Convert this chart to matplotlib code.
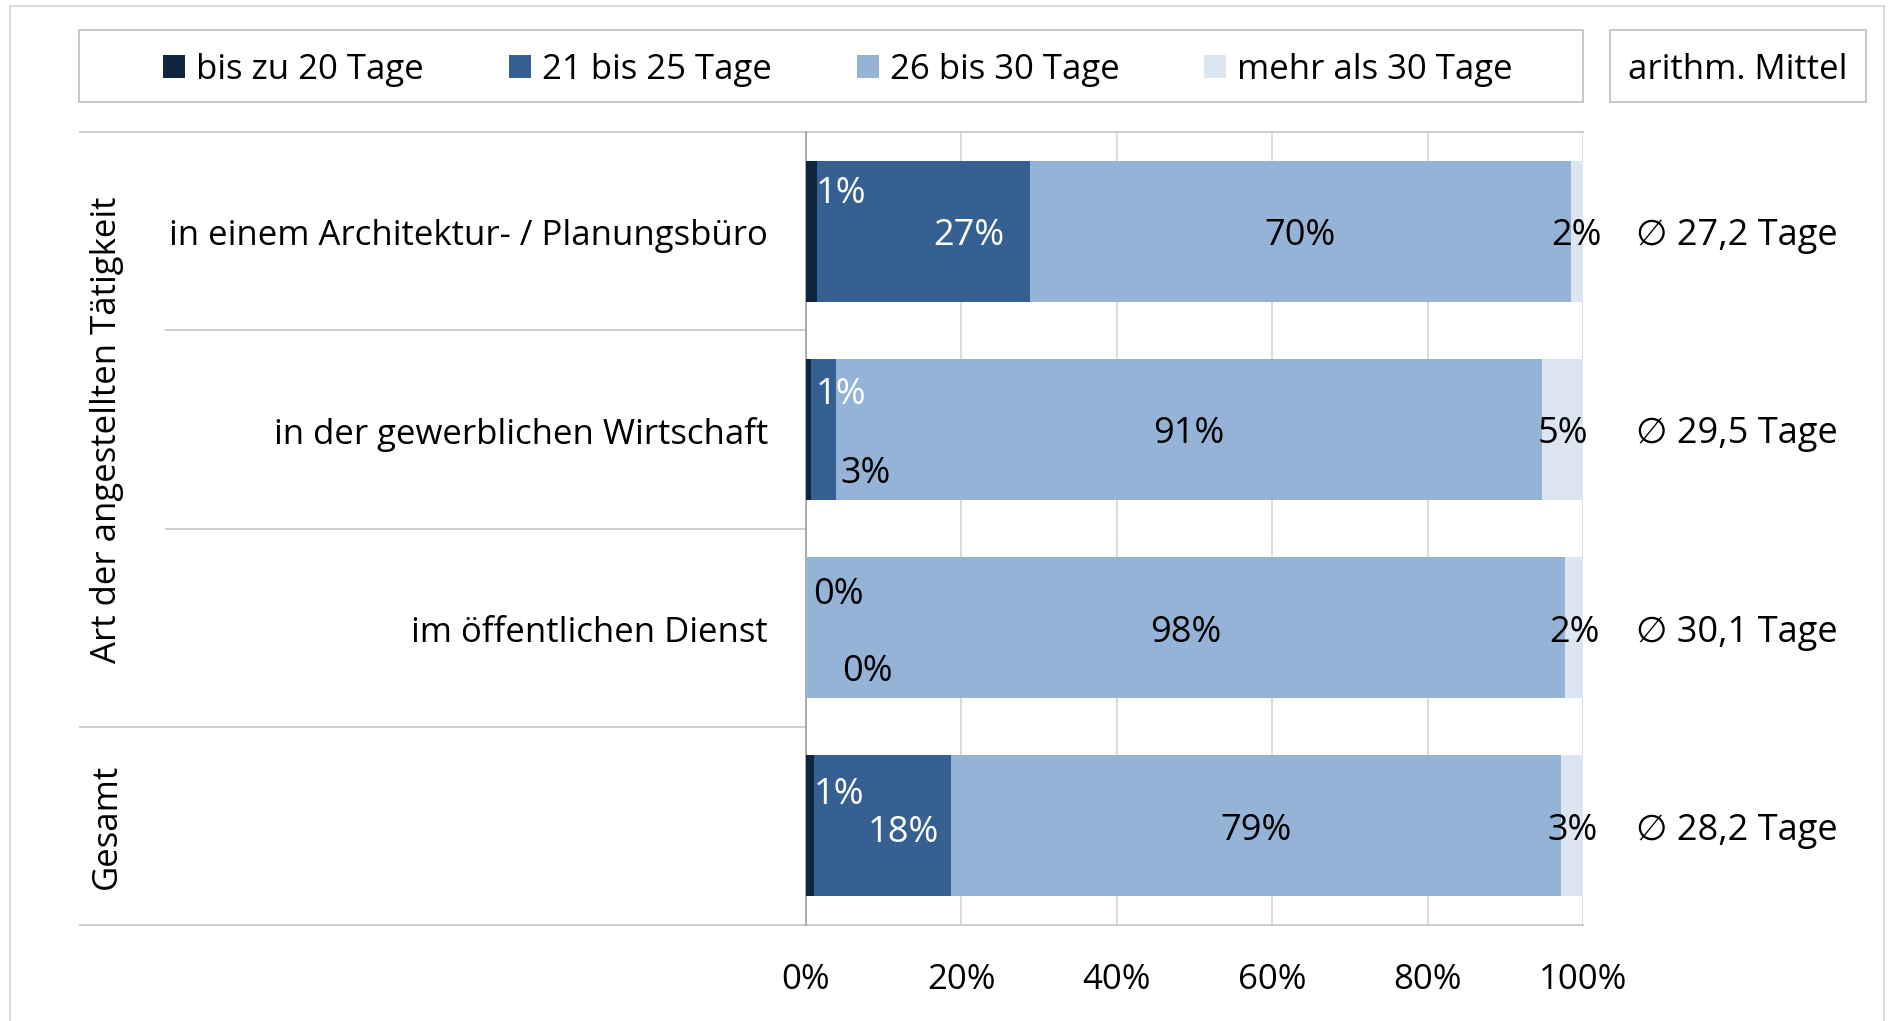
import numpy as np
import matplotlib.pyplot as plt
from matplotlib.patches import Patch, Rectangle

plt.rcParams['font.family'] = ['Open Sans', 'DejaVu Sans']

# Kategorien und Gruppen
kategorien = ["in einem Architektur- / Planungsbüro",
              "in der gewerblichen Wirtschaft",
              "im öffentlichen Dienst",
              ""]
gruppe_taetigkeit = "Art der angestellten Tätigkeit"
gruppe_gesamt = "Gesamt"

# Anteile in Prozent je Urlaubsklasse
serien = ["bis zu 20 Tage", "21 bis 25 Tage", "26 bis 30 Tage", "mehr als 30 Tage"]
bis_20 = [1.4, 0.6, 0.0, 1.0]
von_21_bis_25 = [27.4, 3.3, 0.0, 17.6]
von_26_bis_30 = [69.6, 90.8, 97.7, 78.6]
mehr_als_30 = [1.6, 5.3, 2.3, 2.8]

# arithmetisches Mittel der Urlaubstage
mittelwerte = [27.2, 29.5, 30.1, 28.2]
mittel_titel = "arithm. Mittel"

x_ticks = [0, 20, 40, 60, 80, 100]

farben = ["#10253f", "#366092", "#95b3d7", "#dce6f1"]
# Textfarbe der Beschriftungen je Serie und Zeile
text_farben = [["white", "white", "black", "white"],
               ["white", "black", "black", "white"],
               ["black"] * 4,
               ["black"] * 4]
# Verschiebung der Beschriftungen gegenüber der Segmentmitte (x in %, y in Zeilen)
label_dx = [[3.8, 4.2, 4.2, 3.8],
            [5.9, 5.4, 7.9, 2.7],
            [0, 0, 0, 0],
            [0, 0, 0, 0]]
label_dy = [[-0.21, -0.2, -0.19, -0.18],
            [0, 0.2, 0.2, 0.01],
            [0, 0, 0, 0],
            [0, 0, 0, 0]]
TEXT_DY = 0.025  # Text optisch auf Balkenmitte setzen

FS = 25
W, H = 1888, 1021
fig = plt.figure(figsize=(W / 100, H / 100), dpi=100)
ax = fig.add_axes([806 / W, 1 - 925 / H, 777 / W, 793 / H])

werte = np.array([bis_20, von_21_bis_25, von_26_bis_30, mehr_als_30])
y = np.arange(len(kategorien))
links = np.zeros(len(kategorien))
for i, name in enumerate(serien):
    ax.barh(y, werte[i], left=links, height=0.71, color=farben[i],
            edgecolor='none', label=name, zorder=3)
    for j in range(len(kategorien)):
        mitte = links[j] + werte[i][j] / 2
        ax.text(mitte + label_dx[i][j], y[j] + label_dy[i][j] + TEXT_DY,
                f"{werte[i][j]:.0f}%", ha='center', va='center',
                fontsize=26, color=text_farben[i][j], zorder=5)
    links += werte[i]

ax.set_xlim(0, 100)
ax.set_ylim(len(kategorien) - 0.5, -0.5)
ax.set_xticks(x_ticks)
ax.set_xticklabels([f"{t}%" for t in x_ticks])
ax.set_yticks([])
ax.tick_params(axis='x', length=0, pad=27, labelsize=FS)
ax.xaxis.grid(True, color='#d9d9d9', lw=1.3)
ax.set_axisbelow(True)
for s in ['top', 'right', 'bottom']:
    ax.spines[s].set_visible(False)
ax.spines['left'].set_color('#a6a6a6')
ax.spines['left'].set_linewidth(1.3)

# Trennlinien der Kategorien, links über die Achse hinaus
trans = ax.get_yaxis_transform()
for yy, x0, x1 in [(-0.5, -0.935, 1), (0.5, -0.824, 0), (1.5, -0.824, 0),
                   (2.5, -0.935, 0), (3.5, -0.935, 1)]:
    ax.plot([x0, x1], [yy, yy], transform=trans, color='#c9c9c9', lw=1.3,
            clip_on=False, zorder=1)

for j, kat in enumerate(kategorien):
    ax.text(-0.049, y[j] + TEXT_DY, kat, transform=trans, ha='right', va='center',
            fontsize=FS)
    ax.text(1.198, y[j] + TEXT_DY, f"∅ {mittelwerte[j]:.1f} Tage".replace('.', ','),
            transform=trans, ha='center', va='center', fontsize=26)

ax.text(-0.9, 1, gruppe_taetigkeit, transform=trans, rotation=90,
        ha='center', va='center', fontsize=FS)
ax.text(-0.9, 3, gruppe_gesamt, transform=trans, rotation=90,
        ha='center', va='center', fontsize=FS)

# Legende mit Rahmen
handles = [Patch(facecolor=c, edgecolor='none') for c in farben]
fig.legend(handles, serien, ncol=4, loc='center', bbox_to_anchor=(838 / W, 1 - 70 / H),
           frameon=False, fontsize=FS, handlelength=0.63, handleheight=0.63,
           handletextpad=0.32, columnspacing=2.45)
fig.patches.append(Rectangle((79 / W, 1 - 102 / H), (1583 - 79) / W, 72 / H,
                             transform=fig.transFigure, fill=False,
                             edgecolor='#bfbfbf', lw=1.2))
fig.patches.append(Rectangle((1610 / W, 1 - 102 / H), (1866 - 1610) / W, 72 / H,
                             transform=fig.transFigure, fill=False,
                             edgecolor='#bfbfbf', lw=1.2))
fig.text(1738 / W, 1 - 70 / H, mittel_titel, ha='center', va='center', fontsize=FS)

# äußerer Rahmen
fig.patches.append(Rectangle((10 / W, -0.01), (1884 - 10) / W, (H - 6) / H + 0.01,
                             transform=fig.transFigure, fill=False,
                             edgecolor='#d9d9d9', lw=1.3))

fig.savefig("out.png", dpi=100)
